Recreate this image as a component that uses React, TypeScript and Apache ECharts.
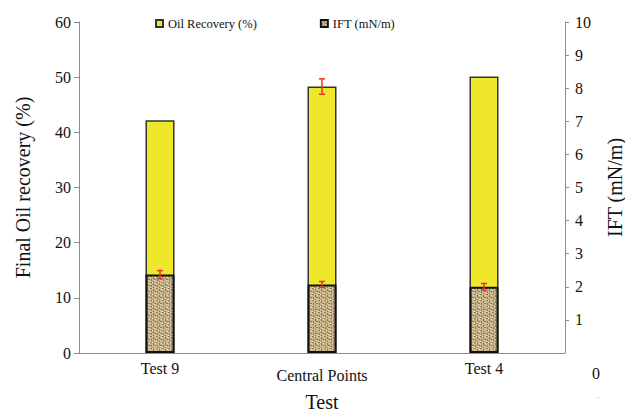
import React, { useEffect, useRef } from 'react';
import * as echarts from 'echarts';

const categories = ['Test 9', 'Central Points', 'Test 4'];
const oilRecovery = [42.2, 48.3, 50.1];
const oilRecoveryError = [0, 1.4, 0];
const iftValues = [2.37, 2.07, 2.0];
const iftError = [0.12, 0.09, 0.1];

const FONT = 'Liberation Serif';

function makeTexture(): HTMLCanvasElement {
  const c = document.createElement('canvas');
  c.width = 6;
  c.height = 6;
  const ctx = c.getContext('2d')!;
  ctx.fillStyle = '#c9b48a';
  ctx.fillRect(0, 0, 6, 6);
  ctx.fillStyle = '#8f7a55';
  ctx.fillRect(0, 0, 2, 1);
  ctx.fillRect(3, 1, 1, 2);
  ctx.fillRect(4, 3, 2, 1);
  ctx.fillRect(1, 3, 1, 2);
  ctx.fillRect(3, 5, 1, 1);
  ctx.fillStyle = '#e4d9ba';
  ctx.fillRect(2, 0, 1, 1);
  ctx.fillRect(5, 1, 1, 1);
  ctx.fillRect(0, 5, 1, 1);
  ctx.fillRect(4, 4, 1, 1);
  return c;
}

function errorRenderer(params: any, api: any) {
  const x = api.value(0);
  const y = api.value(1);
  const e = api.value(2);
  if (!e) return null;
  const top = api.coord([x, y + e]);
  const bot = api.coord([x, y - e]);
  const hw = 3;
  const style = { stroke: '#e8352c', lineWidth: 1.5 };
  return {
    type: 'group',
    children: [
      { type: 'line', shape: { x1: top[0], y1: top[1], x2: bot[0], y2: bot[1] }, style },
      { type: 'line', shape: { x1: top[0] - hw, y1: top[1], x2: top[0] + hw, y2: top[1] }, style },
      { type: 'line', shape: { x1: bot[0] - hw, y1: bot[1], x2: bot[0] + hw, y2: bot[1] }, style },
    ],
  };
}

export default function App() {
  const ref = useRef<HTMLDivElement>(null);
  useEffect(() => {
    if (!ref.current) return;
    const chart = echarts.init(ref.current, undefined, { renderer: 'svg' });
    const texture = makeTexture();
    const axisLineStyle = { color: '#8c8c8c', width: 1 };
    chart.setOption({
      animation: false,
      textStyle: { fontFamily: FONT },
      legend: {
        data: ['Oil Recovery (%)', 'IFT (mN/m)'],
        left: 150,
        top: 12,
        itemWidth: 7,
        itemHeight: 7,
        itemGap: 63,
        icon: 'rect',
        textStyle: { fontFamily: FONT, fontSize: 12.5, color: '#111' },
      },
      grid: { left: 79, right: 61, top: 22, bottom: 62, containLabel: false },
      xAxis: {
        type: 'category',
        data: categories,
        name: 'Test',
        nameLocation: 'middle',
        nameGap: 39,
        nameTextStyle: { fontFamily: FONT, fontSize: 20, color: '#111' },
        axisLine: { lineStyle: axisLineStyle },
        axisTick: { show: false },
        axisLabel: {
          margin: 7,
          fontFamily: FONT,
          fontSize: 16,
          color: '#111',
          formatter: (v: string) => (v === 'Central Points' ? '{b|' + v + '}' : '{a|' + v + '}'),
          rich: {
            a: { fontFamily: FONT, fontSize: 16, color: '#111' },
            b: { fontFamily: FONT, fontSize: 16, color: '#111', padding: [7, 0, 0, 0] },
          },
        },
      },
      yAxis: [
        {
          type: 'value',
          min: 0,
          max: 60,
          interval: 10,
          name: 'Final Oil recovery (%)',
          nameLocation: 'middle',
          nameGap: 46,
          nameTextStyle: { fontFamily: FONT, fontSize: 20, color: '#111' },
          axisLine: { show: true, lineStyle: axisLineStyle },
          axisTick: { show: true, length: 5, lineStyle: axisLineStyle },
          axisLabel: { fontFamily: FONT, fontSize: 16, color: '#111', margin: 8 },
          splitLine: { show: false },
        },
        {
          type: 'value',
          min: 0,
          max: 10,
          interval: 1,
          position: 'right',
          name: 'IFT (mN/m)',
          nameLocation: 'middle',
          nameGap: 40,
          nameRotate: 90,
          nameTextStyle: { fontFamily: FONT, fontSize: 20, color: '#111' },
          axisLine: { show: true, lineStyle: axisLineStyle },
          axisTick: { show: true, length: 4, lineStyle: axisLineStyle },
          axisLabel: { fontFamily: FONT, fontSize: 16, color: '#111', margin: 10, showMinLabel: false },
          splitLine: { show: false },
        },
      ],
      graphic: [
        { type: 'text', left: 592, top: 365, style: { text: '0', fontFamily: FONT, fontSize: 16, fill: '#111' } },
        { type: 'text', left: 596, top: 392, style: { text: '..', fontFamily: FONT, fontSize: 7, fill: '#aaa' } },
      ],
      series: [
        {
          name: 'Oil Recovery (%)',
          type: 'bar',
          yAxisIndex: 0,
          barWidth: 29,
          barGap: '-100%',
          data: oilRecovery,
          itemStyle: { color: '#efe82a', borderColor: '#333', borderWidth: 1.5 },
          z: 2,
        },
        {
          name: 'IFT (mN/m)',
          type: 'bar',
          yAxisIndex: 1,
          barWidth: 29,
          barGap: '-100%',
          data: iftValues,
          itemStyle: {
            color: { image: texture, repeat: 'repeat' },
            borderColor: '#111',
            borderWidth: 2,
          },
          z: 3,
        },
        {
          name: 'oilErr',
          type: 'custom',
          yAxisIndex: 0,
          renderItem: errorRenderer,
          data: categories.map((c, i) => [i, oilRecovery[i], oilRecoveryError[i]]),
          encode: { x: 0, y: 1 },
          z: 5,
        },
        {
          name: 'iftErr',
          type: 'custom',
          yAxisIndex: 1,
          renderItem: errorRenderer,
          data: categories.map((c, i) => [i, iftValues[i], iftError[i]]),
          encode: { x: 0, y: 1 },
          z: 5,
        },
      ],
    });
    return () => chart.dispose();
  }, []);
  return <div ref={ref} style={{ width: 633, height: 417, margin: -8 }} />;
}
